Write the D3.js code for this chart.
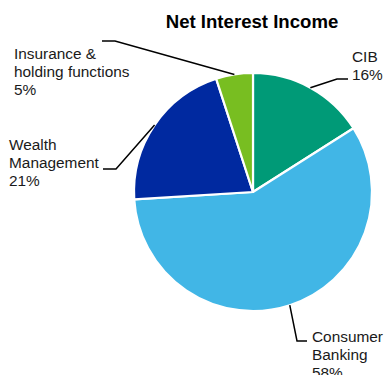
<!DOCTYPE html>
<html>
<head>
<meta charset="utf-8">
<script src="https://cdn.jsdelivr.net/npm/d3@7"></script>
<style>
  html, body { margin: 0; padding: 0; background: #fff; }
  svg { display: block; }
</style>
</head>
<body>
<svg id="chart" width="385" height="375"></svg>
<script>
// Net interest income split by business segment
const segments = ["CIB", "Consumer Banking", "Wealth Management", "Insurance & holding functions"];
const shares = [16, 58, 21, 5];
const labelLines = [["CIB", "16%"], ["Consumer", "Banking", "58%"], ["Wealth", "Management", "21%"], ["Insurance &", "holding functions", "5%"]];
const colors = ["#009a77", "#41b6e6", "#0029a0", "#78be21"];

// Label placement: text anchor, leader elbow and leader end
const labelLayout = [
  { x: 352, y: 62, elbow: [337, 79], end: [348, 79] },
  { x: 312, y: 342, elbow: [297, 341], end: [307, 341] },
  { x: 9, y: 150, elbow: [116, 169], end: [103, 169] },
  { x: 14, y: 59, elbow: [115, 41], end: [102, 41] }
];

const W = 385, H = 375;
const cx = 253, cy = 192, R = 119;
const svg = d3.select("#chart");

svg.append("text")
  .attr("x", 252).attr("y", 28)
  .attr("text-anchor", "middle")
  .attr("font-family", "Liberation Sans, Arial, sans-serif")
  .attr("font-weight", "bold")
  .attr("font-size", 18.6)
  .attr("fill", "#000")
  .text("Net Interest Income");

const data = segments.map((s, i) => ({ name: s, value: shares[i], i }));
const pie = d3.pie().value(d => d.value).sort(null);
const arc = d3.arc().innerRadius(0).outerRadius(R);
const arcs = pie(data);

const g = svg.append("g").attr("transform", `translate(${cx},${cy})`);
g.selectAll("path.slice")
  .data(arcs)
  .join("path")
  .attr("class", "slice")
  .attr("d", arc)
  .attr("fill", d => colors[d.data.i])
  .attr("stroke", "#fff")
  .attr("stroke-width", 2.2)
  .attr("stroke-linejoin", "round");

// Leader lines from the slice edge at its mid angle
arcs.forEach(a => {
  const mid = (a.startAngle + a.endAngle) / 2;
  const sx = cx + R * Math.sin(mid);
  const sy = cy - R * Math.cos(mid);
  const L = labelLayout[a.data.i];
  svg.append("polyline")
    .attr("points", [[sx, sy], L.elbow, L.end].map(p => p.join(",")).join(" "))
    .attr("fill", "none")
    .attr("stroke", "#000")
    .attr("stroke-width", 1.5);
});

// Segment labels
arcs.forEach(a => {
  const L = labelLayout[a.data.i];
  const t = svg.append("text")
    .attr("font-family", "Liberation Sans, Arial, sans-serif")
    .attr("font-size", 15.4)
    .attr("fill", "#1a1a1a");
  labelLines[a.data.i].forEach((line, k) => {
    t.append("tspan").attr("x", L.x).attr("y", L.y + k * 18).text(line);
  });
});
</script>
</body>
</html>
